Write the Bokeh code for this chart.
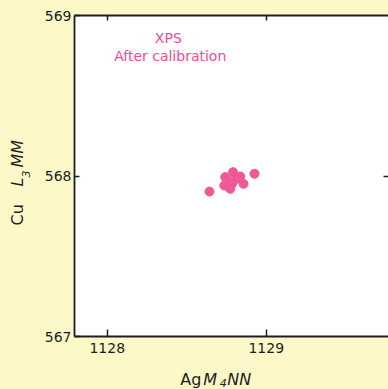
import math
from bokeh.plotting import figure
from bokeh.models import Label, LinearAxis, FixedTicker, Range1d, BoxAnnotation
from bokeh.embed import file_html
from bokeh.resources import INLINE

# Data (Ag M4NN vs Cu L3MM kinetic energies, eV)
ag_m4nn = [1128.643, 1128.926, 1128.791, 1128.742, 1128.784, 1128.857,
           1128.774, 1128.816, 1128.736, 1128.836, 1128.761]
cu_l3mm = [567.903, 568.014, 568.024, 567.993, 567.951, 567.951,
           567.920, 567.983, 567.941, 567.997, 567.972]
x_ticks = [1128, 1129]
y_ticks = [567, 568, 569]

# visible plot box (data units)
X0, X1 = 1127.794, 1129.769
Y0, Y1 = 567.0, 569.0

YELLOW = "#FCF8C8"
PINK = "#F0589A"
TEXT_PINK = "#EC4C98"
INK = "#1e1e1e"
FONT = "DejaVu Sans"

W, H = 388, 389
p = figure(width=W, height=H, output_backend="svg", toolbar_location=None,
           x_range=Range1d(X0 - 74 / 159.0, X0 - 74 / 159.0 + W / 159.0),
           y_range=Range1d(Y1 + 15 / 160.5 - H / 160.5, Y1 + 15 / 160.5),
           x_axis_location=None, y_axis_location=None,
           min_border=0)
p.border_fill_color = YELLOW
p.background_fill_color = YELLOW
p.outline_line_color = None
p.grid.visible = False

p.add_layout(BoxAnnotation(left=X0, right=X1, bottom=Y0, top=Y1,
                           fill_color="white", fill_alpha=1.0,
                           line_color=None, level="underlay"))

def make_axis(ticks, loc, bounds, tick_in, standoff, show_labels=True, line=True):
    ax = LinearAxis(fixed_location=loc, bounds=bounds)
    ax.ticker = FixedTicker(ticks=ticks)
    ax.major_tick_in = tick_in
    ax.major_tick_out = 0
    ax.minor_tick_in = 0
    ax.minor_tick_out = 0
    ax.minor_tick_line_color = None
    ax.major_tick_line_color = INK
    ax.major_tick_line_width = 1.5
    ax.axis_line_color = INK if line else None
    ax.axis_line_width = 1.8
    ax.major_label_standoff = standoff
    ax.major_label_text_font = FONT
    ax.major_label_text_font_size = "14px"
    ax.major_label_text_color = INK
    if not show_labels:
        ax.major_label_overrides = {t: "" for t in ticks}
        ax.major_label_text_font_size = "0px"
        ax.major_label_standoff = 0
    return ax

p.add_layout(make_axis(x_ticks, Y0, (X0, X1), 7, 6), "below")
p.add_layout(make_axis(y_ticks, X0, (Y0, Y1), 5, 3), "left")
p.add_layout(make_axis(x_ticks, Y1, (X0, X1), 5, 0, show_labels=False), "above")
p.add_layout(make_axis([568], X1, (Y0, Y1), 5, 0, show_labels=False, line=False), "right")

p.scatter(ag_m4nn, cu_l3mm, size=9, color=PINK, line_color=PINK, alpha=1.0)

def lab(x, y, text, size, style="normal", color=INK, align="left", angle=0.0):
    p.add_layout(Label(x=x, y=y, text=text, text_font=FONT,
                       text_font_size=size, text_font_style=style,
                       text_color=color, text_align=align,
                       text_baseline="middle", angle=angle))

# annotation
lab(1128.384, 568.857, "XPS", "14px", color=TEXT_PINK, align="center")
lab(1128.396, 568.745, "After calibration", "14px", color=TEXT_PINK, align="center")

# x axis title: Ag M4 NN
lab(1128.459, 566.735, "Ag", "16px")
lab(1128.604, 566.735, "M", "16px", style="italic")
lab(1128.708, 566.708, "4", "11px", style="italic")
lab(1128.755, 566.735, "NN", "16px", style="italic")

# y axis title: Cu L3 MM (rotated)
a = math.pi / 2
lab(1127.434, 567.692, "Cu", "16px", angle=a)
lab(1127.434, 567.935, "L", "16px", style="italic", angle=a)
lab(1127.491, 567.991, "3", "11px", style="italic", angle=a)
lab(1127.434, 568.053, "MM", "16px", style="italic", angle=a)

html = file_html(p, INLINE)
css = ("<style>html,body{margin:0 !important;padding:0 !important;"
       "overflow:hidden !important;background:%s !important;}</style>" % YELLOW)
html = html.replace("</head>", css + "</head>", 1)
open("out.html", "w").write(html)
